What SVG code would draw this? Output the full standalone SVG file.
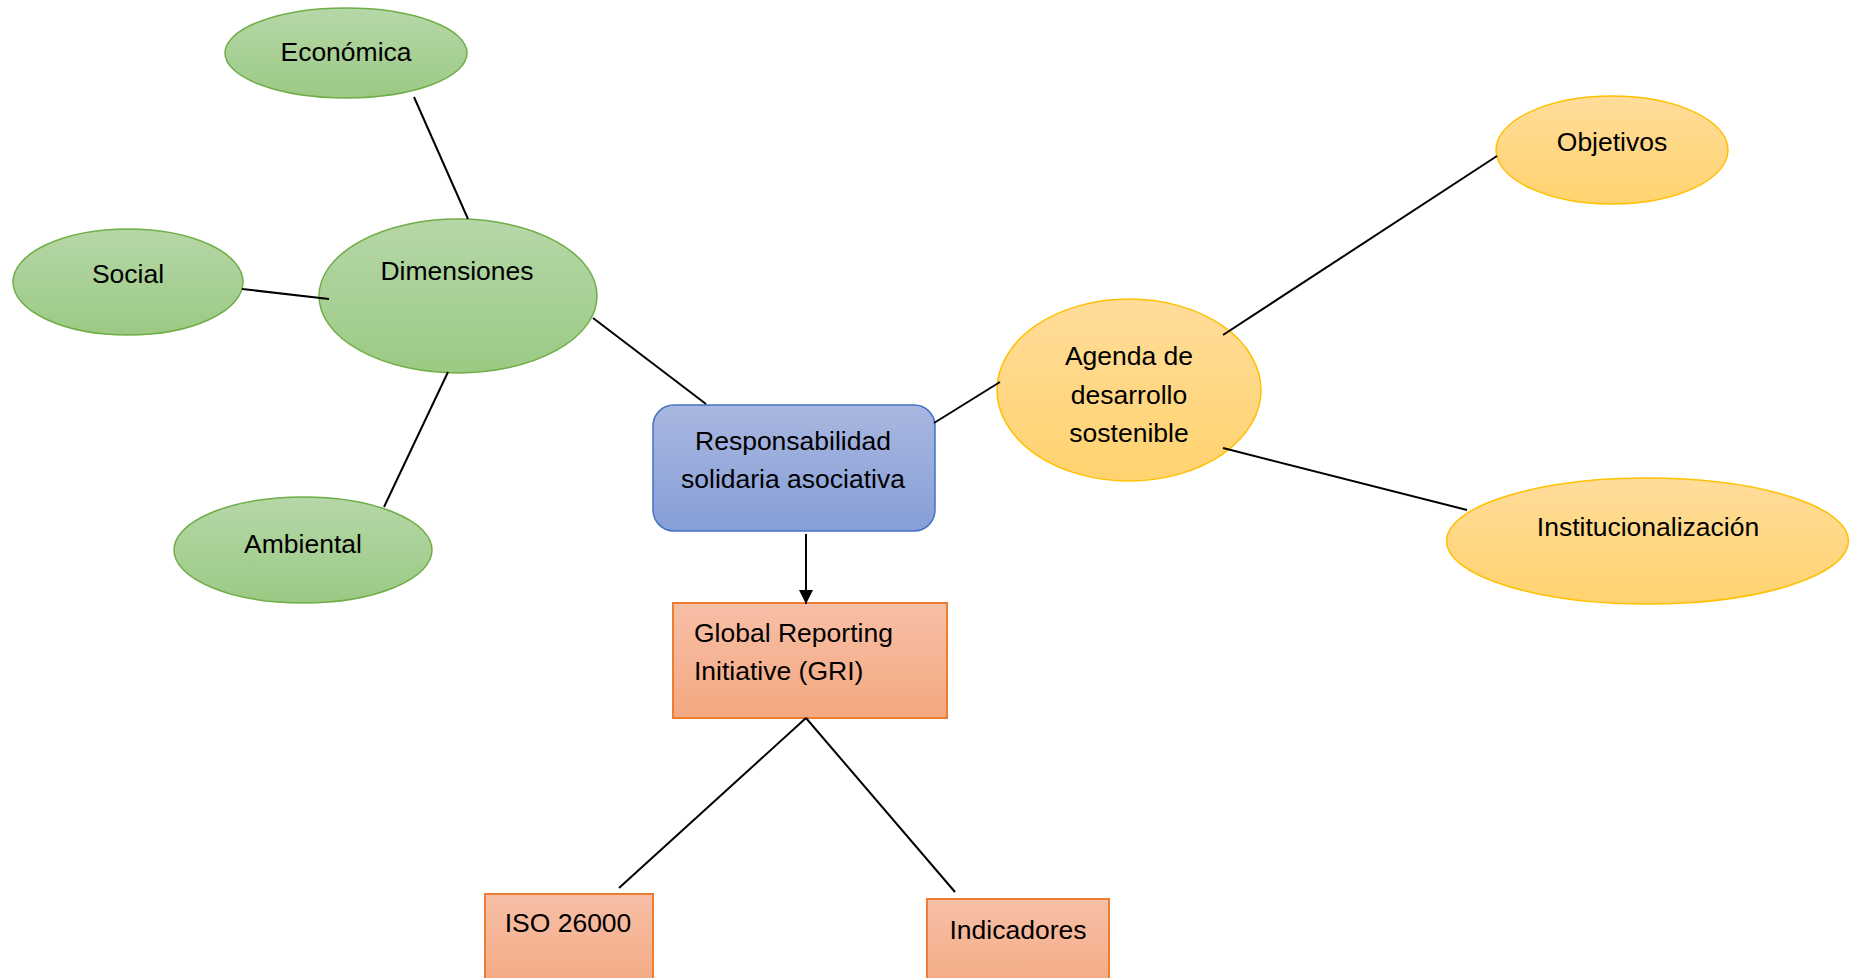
<svg xmlns="http://www.w3.org/2000/svg" width="1850" height="978" viewBox="0 0 1850 978">
  <defs>
    <linearGradient id="gGreen" x1="0" y1="0" x2="0" y2="1">
      <stop offset="0" stop-color="#b6d7a8"/>
      <stop offset="1" stop-color="#9bca84"/>
    </linearGradient>
    <linearGradient id="gYellow" x1="0" y1="0" x2="0" y2="1">
      <stop offset="0" stop-color="#ffdc9a"/>
      <stop offset="1" stop-color="#ffd36f"/>
    </linearGradient>
    <linearGradient id="gOrange" x1="0" y1="0" x2="0" y2="1">
      <stop offset="0" stop-color="#f7bfa7"/>
      <stop offset="1" stop-color="#f4a880"/>
    </linearGradient>
    <linearGradient id="gBlue" x1="0" y1="0" x2="0" y2="1">
      <stop offset="0" stop-color="#a9b7e0"/>
      <stop offset="1" stop-color="#869fd7"/>
    </linearGradient>
    <marker id="arrow" viewBox="0 0 14 14" refX="14" refY="7" markerWidth="14" markerHeight="14" markerUnits="userSpaceOnUse" orient="auto">
      <path d="M0,0 L14,7 L0,14 Z" fill="#000"/>
    </marker>
  </defs>
  <style>
    .green { fill: url(#gGreen); stroke: #70ad47; stroke-width: 1.5; }
    .yellow { fill: url(#gYellow); stroke: #ffc000; stroke-width: 1.5; }
    .orange { fill: url(#gOrange); stroke: #ed7d31; stroke-width: 2; }
    .blue { fill: url(#gBlue); stroke: #4472c4; stroke-width: 1.5; }
    .lbl { font-family: "Liberation Sans", Arial, sans-serif; font-size: 26.5px; fill: #000; text-anchor: middle; }
    .lbl-l { font-family: "Liberation Sans", Arial, sans-serif; font-size: 26.5px; fill: #000; text-anchor: start; }
    .conn line { stroke: #000; stroke-width: 2; fill: none; }
  </style>
  <rect width="1850" height="978" fill="#ffffff"/>

  <g id="node-economica">
    <ellipse class="green" cx="346" cy="53" rx="121" ry="45"/>
    <text class="lbl" x="346" y="61">Económica</text>
  </g>
  <g id="node-social">
    <ellipse class="green" cx="128" cy="282" rx="115" ry="53"/>
    <text class="lbl" x="128" y="283">Social</text>
  </g>
  <g id="node-dimensiones">
    <ellipse class="green" cx="458" cy="296" rx="139" ry="77"/>
    <text class="lbl" x="457" y="280">Dimensiones</text>
  </g>
  <g id="node-ambiental">
    <ellipse class="green" cx="303" cy="550" rx="129" ry="53"/>
    <text class="lbl" x="303" y="553">Ambiental</text>
  </g>
  <g id="node-responsabilidad">
    <rect class="blue" x="653" y="405" width="282" height="126" rx="21" ry="21"/>
    <text class="lbl" x="793" y="450">Responsabilidad</text>
    <text class="lbl" x="793" y="488">solidaria asociativa</text>
  </g>
  <g id="node-agenda">
    <ellipse class="yellow" cx="1129" cy="390" rx="132" ry="91"/>
    <text class="lbl" x="1129" y="365">Agenda de</text>
    <text class="lbl" x="1129" y="404">desarrollo</text>
    <text class="lbl" x="1129" y="442">sostenible</text>
  </g>
  <g id="node-objetivos">
    <ellipse class="yellow" cx="1612" cy="150" rx="116" ry="54"/>
    <text class="lbl" x="1612" y="151">Objetivos</text>
  </g>
  <g id="node-institucionalizacion">
    <ellipse class="yellow" cx="1647.5" cy="541" rx="201" ry="63"/>
    <text class="lbl" x="1648" y="536">Institucionalización</text>
  </g>
  <g id="node-gri">
    <rect class="orange" x="673" y="603" width="274" height="115"/>
    <text class="lbl-l" x="694" y="642">Global Reporting</text>
    <text class="lbl-l" x="694" y="680">Initiative (GRI)</text>
  </g>
  <g id="node-iso">
    <rect class="orange" x="485" y="894" width="168" height="100"/>
    <text class="lbl" x="568" y="932">ISO 26000</text>
  </g>
  <g id="node-indicadores">
    <rect class="orange" x="927" y="899" width="182" height="100"/>
    <text class="lbl" x="1018" y="939">Indicadores</text>
  </g>

  <g id="connectors" class="conn">
    <line x1="414" y1="97" x2="468" y2="219"/>
    <line x1="242" y1="289" x2="329" y2="299"/>
    <line x1="448" y1="372" x2="384" y2="507"/>
    <line x1="593" y1="318" x2="706" y2="404"/>
    <line x1="934" y1="423" x2="1000" y2="382"/>
    <line x1="1223" y1="335" x2="1497" y2="156"/>
    <line x1="1223" y1="448" x2="1467" y2="510"/>
    <line x1="806" y1="534" x2="806" y2="604" marker-end="url(#arrow)"/>
    <line x1="806" y1="718" x2="619" y2="888"/>
    <line x1="806" y1="718" x2="955" y2="892"/>
  </g>
</svg>
